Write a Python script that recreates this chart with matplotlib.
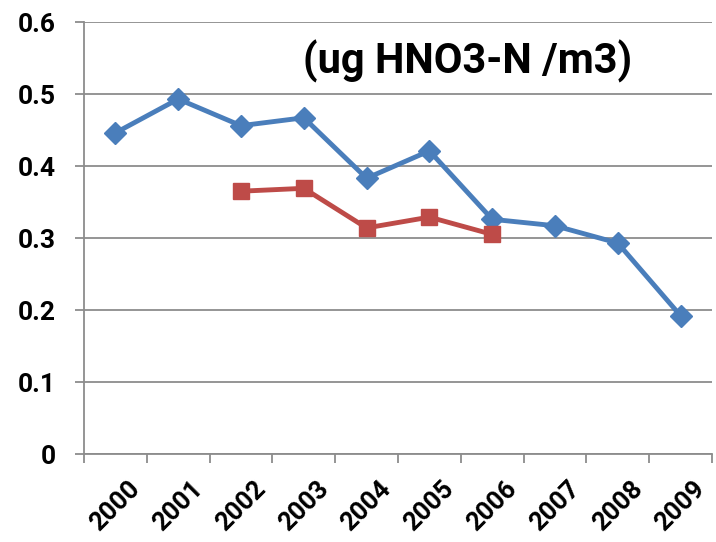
import matplotlib
matplotlib.use("Agg")
import matplotlib.pyplot as plt
import numpy as np

years = ["2000", "2001", "2002", "2003", "2004", "2005", "2006", "2007", "2008", "2009"]
blue_values = [0.446, 0.493, 0.456, 0.467, 0.383, 0.421, 0.326, 0.317, 0.293, 0.192]
red_years = ["2002", "2003", "2004", "2005", "2006"]
red_values = [0.365, 0.369, 0.314, 0.329, 0.305]
unit_label = "(ug HNO3-N /m3)"

plt.rcParams["font.family"] = ["Roboto", "DejaVu Sans"]

fig = plt.figure(figsize=(7.16, 5.42), dpi=100)
ax = fig.add_axes([84 / 716, 1 - 454 / 542, 628 / 716, 432 / 542])

x = np.arange(len(years))
x_red = [years.index(y) for y in red_years]

ax.plot(x, blue_values, color="#4a7ebb", linewidth=3.5, marker="D",
        markersize=11, zorder=3)
ax.plot(x_red, red_values, color="#be4b48", linewidth=3.5, marker="s",
        markersize=12, zorder=3)

ax.set_xlim(-0.5, len(years) - 0.5)
ax.set_ylim(0, 0.6)
ax.set_yticks(np.arange(0, 0.61, 0.1))
ax.set_yticklabels(["0", "0.1", "0.2", "0.3", "0.4", "0.5", "0.6"],
                   fontsize=19, fontweight="bold")
ax.yaxis.grid(True, color="#8c8c8c", linewidth=1.3)
ax.set_axisbelow(True)

ax.set_xticks(x)
ax.set_xticklabels(years, rotation=45, ha="center", va="top",
                   fontsize=18.5, fontweight="bold")
ax.set_xticks(np.arange(-0.5, len(years), 1), minor=True)
ax.tick_params(axis="x", which="major", length=0, pad=16)
ax.tick_params(axis="x", which="minor", length=6.5, color="#8c8c8c", width=1.3)
ax.tick_params(axis="y", length=6.5, color="#8c8c8c", width=1.3, pad=14)

for side in ["top", "right"]:
    ax.spines[side].set_visible(False)
for side in ["left", "bottom"]:
    ax.spines[side].set_color("#8c8c8c")
    ax.spines[side].set_linewidth(1.3)

ax.text(0.61, 0.91, unit_label, transform=ax.transAxes, ha="center",
        va="center", fontsize=30, fontweight="bold")

fig.savefig("out.png", dpi=100)
